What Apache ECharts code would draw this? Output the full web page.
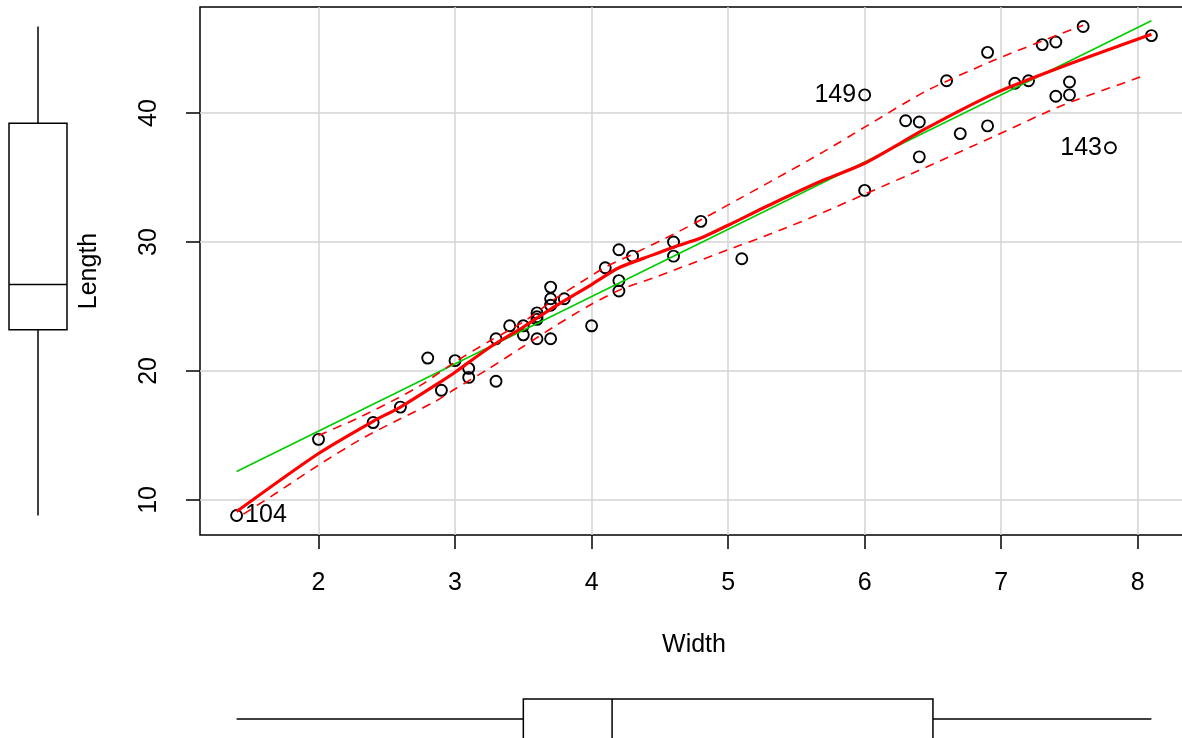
<!DOCTYPE html>
<html><head><meta charset="utf-8">
<script src="https://cdn.jsdelivr.net/npm/echarts@6/dist/echarts.min.js"></script>
<style>html,body{margin:0;padding:0;background:#fff}#c{width:1182px;height:738px}</style>
</head><body><div id="c"></div>
<script>
// ---- data ----
const widths  = [1.4, 2.0, 2.4, 2.6, 2.8, 2.9, 3.0, 3.1, 3.1, 3.3, 3.3, 3.4, 3.5, 3.5, 3.6, 3.6, 3.6, 3.6, 3.7, 3.7, 3.7, 3.7, 3.8, 4.0, 4.1, 4.2, 4.2, 4.2, 4.3, 4.6, 4.6, 4.8, 5.1, 6.0, 6.0, 6.3, 6.4, 6.4, 6.6, 6.7, 6.9, 6.9, 7.1, 7.2, 7.3, 7.4, 7.4, 7.5, 7.5, 7.6, 7.8, 8.1];
const lengths = [8.8, 14.7, 16.0, 17.2, 21.0, 18.5, 20.8, 20.2, 19.5, 22.5, 19.2, 23.5, 23.5, 22.8, 24.5, 24.2, 24.0, 22.5, 26.5, 25.6, 25.1, 22.5, 25.6, 23.5, 28.0, 29.4, 27.0, 26.2, 28.9, 30.0, 28.9, 31.6, 28.7, 41.4, 34.0, 39.4, 39.3, 36.6, 42.5, 38.4, 44.7, 39.0, 42.3, 42.5, 45.3, 45.5, 41.3, 42.4, 41.4, 46.7, 37.3, 46.0];
const pointIds    = ['104', '149', '143'];
const pointIdxs   = [0, 33, 50];

const xTicks = [2, 3, 4, 5, 6, 7, 8];
const yTicks = [10, 20, 30, 40];

const fitX = [1.4, 8.1];
const fitY = [12.2, 47.15];

const smoothX = [1.4, 2.0, 2.4, 2.6, 2.9, 3.0, 3.25, 3.5, 3.7, 4.0, 4.2, 4.45, 4.6, 4.8, 5.0, 5.33, 5.7, 6.0, 6.45, 6.95, 7.45, 8.1];
const smoothY = [9.1, 13.6, 16.1, 17.2, 19.2, 19.9, 21.8, 23.4, 24.8, 26.7, 28.0, 29.0, 29.6, 30.3, 31.3, 33.0, 34.8, 36.1, 38.8, 41.5, 43.6, 46.1];

const upperX = [2.0, 2.3, 2.6, 2.75, 3.0, 3.25, 3.5, 3.72, 3.97, 4.11, 4.31, 4.6, 4.85, 5.09, 5.33, 5.7, 6.0, 6.45, 6.95, 7.45, 7.6];
const upperY = [15.0, 16.4, 18.0, 18.9, 20.7, 22.3, 23.8, 25.5, 27.2, 28.1, 29.1, 30.6, 32.0, 33.4, 34.8, 37.0, 38.9, 41.7, 44.1, 46.2, 46.8];

const lowerX = [1.45, 1.7, 2.0, 2.3, 2.6, 2.85, 3.0, 3.25, 3.5, 3.72, 3.97, 4.21, 4.45, 4.6, 5.0, 5.33, 5.7, 6.0, 6.45, 6.95, 7.45, 8.05];
const lowerY = [8.9, 10.6, 12.7, 14.65, 16.3, 17.6, 18.6, 20.2, 21.9, 23.4, 25.0, 26.3, 27.2, 27.8, 29.4, 30.7, 32.3, 33.7, 35.8, 38.2, 40.6, 42.9];

// five-number summaries [min, Q1, median, Q3, max]
const widthBox  = [1.4, 3.5, 4.15, 6.5, 8.1];
const lengthBox = [8.8, 23.2, 26.7, 39.2, 46.7];

// ---- chart ----
const FONT = 'Liberation Sans';
const FS = 25;
const XMIN = 1.132, XMAX = 8.368, YMIN = 7.284, YMAX = 48.216;
const zip = (a, b) => a.map((v, i) => [v, b[i]]);

const chart = echarts.init(document.getElementById('c'), null, {renderer: 'canvas'});
const blackLine = {stroke: '#000', lineWidth: 1.5};

chart.setOption({
  animation: false,
  backgroundColor: '#fff',
  textStyle: {fontFamily: FONT},
  grid: [
    {left: 200, top: 7, width: 988, height: 528, show: true, borderColor: '#000', borderWidth: 1.5,
     backgroundColor: 'transparent', containLabel: false, outerBoundsMode: 'none'},
    {left: 0, top: 7, width: 76, height: 528, containLabel: false, outerBoundsMode: 'none'},
    {left: 200, top: 700, width: 988, height: 38, containLabel: false, outerBoundsMode: 'none'}
  ],
  xAxis: [
    {type: 'value', gridIndex: 0, min: XMIN, max: XMAX,
     axisLine: {show: false},
     axisTick: {show: true, length: 14, lineStyle: {color: '#000', width: 1.5}, customValues: xTicks},
     axisLabel: {customValues: xTicks, fontSize: FS, color: '#000', margin: 36, fontFamily: FONT},
     splitLine: {show: true, lineStyle: {color: '#d3d3d3', width: 1.5}},
     name: 'Width', nameLocation: 'middle', nameGap: 98,
     nameTextStyle: {fontSize: FS, color: '#000', fontFamily: FONT}},
    {type: 'category', gridIndex: 1, data: ['Length'], show: false},
    {type: 'value', gridIndex: 2, min: XMIN, max: XMAX, show: false}
  ],
  yAxis: [
    {type: 'value', gridIndex: 0, min: YMIN, max: YMAX,
     axisLine: {show: false},
     axisTick: {show: true, length: 14, lineStyle: {color: '#000', width: 1.5}, customValues: yTicks},
     axisLabel: {customValues: yTicks, fontSize: FS, color: '#000', margin: 38, rotate: 90, fontFamily: FONT},
     splitLine: {show: true, lineStyle: {color: '#d3d3d3', width: 1.5}},
     name: 'Length', nameLocation: 'middle', nameGap: 98,
     nameTextStyle: {fontSize: FS, color: '#000', fontFamily: FONT}},
    {type: 'value', gridIndex: 1, min: YMIN, max: YMAX, show: false},
    {type: 'category', gridIndex: 2, data: ['Width'], show: false}
  ],
  series: [
    {type: 'scatter', xAxisIndex: 0, yAxisIndex: 0, data: zip(widths, lengths),
     symbol: 'circle', symbolSize: 11,
     itemStyle: {color: 'rgba(0,0,0,0)', borderColor: '#000', borderWidth: 1.9, opacity: 1}, z: 2},
    {type: 'scatter', xAxisIndex: 0, yAxisIndex: 0,
     data: pointIdxs.map((k, i) => ({value: [widths[k], lengths[k]], name: pointIds[i],
        label: {position: widths[k] > 5 ? 'left' : 'right'}})),
     symbol: 'circle', symbolSize: 11, itemStyle: {color: 'rgba(0,0,0,0)', opacity: 1},
     label: {show: true, formatter: p => p.name, fontSize: FS, color: '#000', distance: 3, fontFamily: FONT}, z: 3},
    {type: 'line', xAxisIndex: 0, yAxisIndex: 0, data: zip(fitX, fitY), symbol: 'none',
     lineStyle: {color: '#00CD00', width: 1.6}, z: 4},
    {type: 'line', xAxisIndex: 0, yAxisIndex: 0, data: zip(upperX, upperY), symbol: 'none', smooth: 0.25,
     lineStyle: {color: '#ff0000', width: 1.6, type: [9, 7]}, z: 5},
    {type: 'line', xAxisIndex: 0, yAxisIndex: 0, data: zip(lowerX, lowerY), symbol: 'none', smooth: 0.25,
     lineStyle: {color: '#ff0000', width: 1.6, type: [9, 7]}, z: 5},
    {type: 'line', xAxisIndex: 0, yAxisIndex: 0, data: zip(smoothX, smoothY), symbol: 'none', smooth: 0.25,
     lineStyle: {color: '#ff0000', width: 3.2}, z: 6},
    // vertical boxplot of Length (left)
    {type: 'custom', xAxisIndex: 1, yAxisIndex: 1, data: [[0].concat(lengthBox)],
     encode: {x: 0, y: [1, 2, 3, 4, 5]},
     renderItem: (params, api) => {
       const cat = api.value(0);
       const cx = api.coord([cat, api.value(3)])[0];
       const y = i => api.coord([cat, api.value(i)])[1];
       const hw = 29;
       return {type: 'group', children: [
         {type: 'line', shape: {x1: cx, y1: y(1), x2: cx, y2: y(2)}, style: blackLine},
         {type: 'line', shape: {x1: cx, y1: y(4), x2: cx, y2: y(5)}, style: blackLine},
         {type: 'rect', shape: {x: cx - hw, y: y(4), width: 2 * hw, height: y(2) - y(4)}, style: {fill: 'none', stroke: '#000', lineWidth: 1.5}},
         {type: 'line', shape: {x1: cx - hw, y1: y(3), x2: cx + hw, y2: y(3)}, style: blackLine}
       ]};
     }},
    // horizontal boxplot of Width (bottom)
    {type: 'custom', xAxisIndex: 2, yAxisIndex: 2, data: [[0].concat(widthBox)],
     encode: {y: 0, x: [1, 2, 3, 4, 5]},
     renderItem: (params, api) => {
       const cat = api.value(0);
       const cy = api.coord([api.value(3), cat])[1];
       const x = i => api.coord([api.value(i), cat])[0];
       const hh = 20;
       return {type: 'group', children: [
         {type: 'line', shape: {x1: x(1), y1: cy, x2: x(2), y2: cy}, style: blackLine},
         {type: 'line', shape: {x1: x(4), y1: cy, x2: x(5), y2: cy}, style: blackLine},
         {type: 'rect', shape: {x: x(2), y: cy - hh, width: x(4) - x(2), height: 2 * hh}, style: {fill: 'none', stroke: '#000', lineWidth: 1.5}},
         {type: 'line', shape: {x1: x(3), y1: cy - hh, x2: x(3), y2: cy + hh}, style: blackLine}
       ]};
     }}
  ]
});
</script>
</body></html>
